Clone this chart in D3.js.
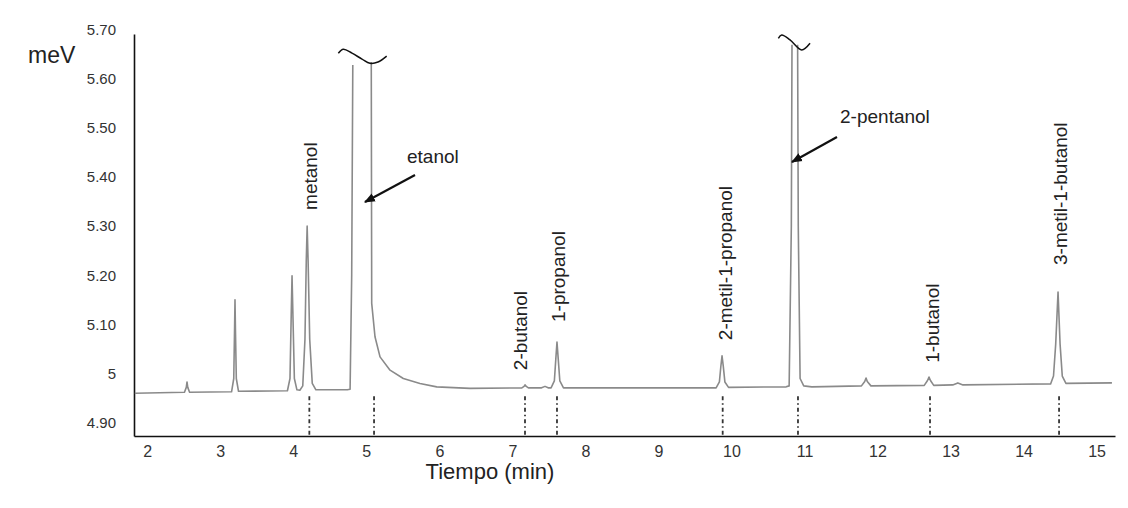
<!DOCTYPE html>
<html><head><meta charset="utf-8">
<script src="https://cdn.jsdelivr.net/npm/d3@7"></script>
<style>body{margin:0;background:#fff} svg{display:block}</style>
</head><body>
<svg id="c" width="1128" height="508"></svg>
<script>
// ---- data ----
const xDomain = [1.819, 15.252];
const yDomain = [4.873, 5.691];
const xTickValues = [2,3,4,5,6,7,8,9,10,11,12,13,14,15];
const yTickValues = [4.9,5.0,5.1,5.2,5.3,5.4,5.5,5.6,5.7];
const yTickLabels = ["4.90","5","5.10","5.20","5.30","5.40","5.50","5.60","5.70"];

// chromatogram trace [time (min), signal (meV)]; null = off scale
const trace = [
 [1.83,4.960],
 [2.51,4.962],[2.535,4.972],[2.545,4.983],[2.555,4.972],[2.58,4.962],
 [3.155,4.963],[3.185,4.99],[3.196,5.09],[3.202,5.150],[3.208,5.09],[3.22,4.99],[3.25,4.964],
 [3.92,4.965],[3.955,4.99],[3.972,5.12],[3.983,5.199],[3.995,5.12],[4.015,4.99],[4.05,4.967],[4.09,4.966],
 [4.13,4.975],[4.16,5.07],[4.178,5.23],[4.19,5.300],[4.203,5.23],[4.225,5.07],[4.26,4.98],[4.31,4.967],
 [4.74,4.967],[4.778,4.968],[4.80,5.20],[4.815,5.628],[4.94,null],
 [5.068,5.634],[5.074,5.143],[5.119,5.075],[5.188,5.034],[5.325,5.007],[5.507,4.990],[5.735,4.980],[5.964,4.973],[6.42,4.970],
 [7.13,4.971],[7.16,4.974],[7.173,4.977],[7.19,4.974],[7.22,4.971],
 [7.40,4.971],[7.447,4.974],[7.49,4.971],
 [7.53,4.971],[7.575,4.985],[7.595,5.03],[7.611,5.064],[7.628,5.03],[7.65,4.985],[7.70,4.971],
 [9.79,4.971],[9.835,4.983],[9.855,5.015],[9.871,5.036],[9.888,5.015],[9.91,4.983],[9.96,4.972],
 [10.75,4.973],[10.79,4.975],[10.82,5.30],[10.829,5.669],[10.87,null],[10.906,5.669],[10.915,5.30],[10.94,4.99],[10.99,4.975],[11.1,4.973],
 [11.78,4.975],[11.825,4.984],[11.843,4.991],[11.86,4.984],[11.91,4.975],
 [12.64,4.976],[12.685,4.986],[12.705,4.993],[12.725,4.986],[12.77,4.976],
 [13.03,4.977],[13.10,4.981],[13.17,4.977],
 [14.37,4.979],[14.41,4.995],[14.44,5.06],[14.472,5.166],[14.50,5.06],[14.53,4.995],[14.58,4.980],
 [15.21,4.981]
];

// identified compounds
const compoundNames  = ["metanol","etanol","2-butanol","1-propanol","2-metil-1-propanol","2-pentanol","1-butanol","3-metil-1-butanol"];
const compoundTimes  = [4.220, 5.106, 7.173, 7.611, 9.880, 10.911, 12.719, 14.486];
const markerTop = 4.954;

// vertical labels (time, value at start of text)
const vLabelNames  = ["metanol","2-butanol","1-propanol","2-metil-1-propanol","1-butanol","3-metil-1-butanol"];
const vLabelTimes  = [4.228, 7.105, 7.625, 9.912, 12.746, 14.499];
const vLabelValues = [5.333, 5.007, 5.105, 5.068, 5.022, 5.221];

// arrow labels
const hLabelNames  = ["etanol","2-pentanol"];
const hLabelTimes  = [5.557, 11.487];
const hLabelValues = [5.429, 5.510];
const arrowFrom = [[5.667,5.404],[11.445,5.4815]];
const arrowTo   = [[4.982,5.349],[10.829,5.4306]];

// off-scale break marks
const breakEtanol   = [[4.617,5.652],[4.685,5.660],[4.804,5.652],[4.941,5.640],[5.050,5.6315],[5.160,5.634],[5.279,5.646]];
const breakPentanol = [[10.642,5.682],[10.688,5.689],[10.802,5.679],[10.962,5.6585],[11.076,5.672]];

// ---- drawing ----
const svg = d3.select("#c");
const font = "'Liberation Sans', Arial, Helvetica, sans-serif";
const x = d3.scaleLinear().domain(xDomain).range([134, 1115]);
const y = d3.scaleLinear().domain(yDomain).range([436, 34]);

svg.append("defs").append("marker")
  .attr("id","ah").attr("viewBox","0 0 10 10").attr("refX",9).attr("refY",5)
  .attr("markerWidth",5).attr("markerHeight",5).attr("orient","auto")
  .append("path").attr("d","M0,1 L10,5 L0,9 Z").attr("fill","#111");

// axes
const xAxis = svg.append("g").attr("transform",`translate(0,${y(yDomain[0])})`)
  .call(d3.axisBottom(x).tickValues(xTickValues).tickSize(0).tickPadding(10).tickFormat(d3.format("d")));
xAxis.select(".domain").attr("stroke","#111").attr("stroke-width",1.6);
xAxis.selectAll("text").attr("font-family",font).attr("font-size",16).attr("fill","#333");

const yAxis = svg.append("g").attr("transform",`translate(${x(xDomain[0])},0)`)
  .call(d3.axisLeft(y).tickValues(yTickValues).tickSize(0).tickPadding(18).tickFormat((d,i)=>yTickLabels[i]));
yAxis.select(".domain").attr("stroke","#111").attr("stroke-width",1.6);
yAxis.selectAll("text").attr("font-family",font).attr("font-size",15).attr("fill","#333");

// markers under peaks
svg.append("g").selectAll("line").data(compoundTimes).join("line")
  .attr("x1",d=>x(d)).attr("x2",d=>x(d))
  .attr("y1",y(markerTop)).attr("y2",y(yDomain[0]))
  .attr("stroke","#333").attr("stroke-width",1.8).attr("stroke-dasharray","4,3,1.5,3");

// trace
const line = d3.line().defined(d=>d[1]!==null).x(d=>x(d[0])).y(d=>y(d[1]));
svg.append("path").datum(trace).attr("d",line)
  .attr("fill","none").attr("stroke","#8a8a8a").attr("stroke-width",1.6).attr("stroke-linejoin","round");

// break marks
const curve = d3.line().x(d=>x(d[0])).y(d=>y(d[1])).curve(d3.curveCatmullRom);
[breakEtanol, breakPentanol].forEach(b=>{
  svg.append("path").datum(b).attr("d",curve).attr("fill","none").attr("stroke","#111").attr("stroke-width",1.5);
});

// vertical labels
svg.append("g").selectAll("text").data(vLabelNames).join("text")
  .attr("transform",(d,i)=>`translate(${x(vLabelTimes[i])},${y(vLabelValues[i])}) rotate(-90)`)
  .attr("dy","0.35em").attr("font-family",font).attr("font-size",19).attr("fill","#222")
  .text(d=>d);

// horizontal labels
svg.append("g").selectAll("text").data(hLabelNames).join("text")
  .attr("x",(d,i)=>x(hLabelTimes[i])).attr("y",(d,i)=>y(hLabelValues[i]))
  .attr("font-family",font).attr("font-size",19).attr("fill","#222").text(d=>d);

// arrows
svg.append("g").selectAll("line").data(arrowFrom).join("line")
  .attr("x1",d=>x(d[0])).attr("y1",d=>y(d[1]))
  .attr("x2",(d,i)=>x(arrowTo[i][0])).attr("y2",(d,i)=>y(arrowTo[i][1]))
  .attr("stroke","#111").attr("stroke-width",2.2).attr("marker-end","url(#ah)");

// axis titles
svg.append("text").attr("x",28).attr("y",63).attr("font-family",font).attr("font-size",23).attr("fill","#222").text("meV");
svg.append("text").attr("x",490).attr("y",479).attr("text-anchor","middle").attr("font-family",font).attr("font-size",22).attr("fill","#222").text("Tiempo (min)");
</script>
</body></html>
